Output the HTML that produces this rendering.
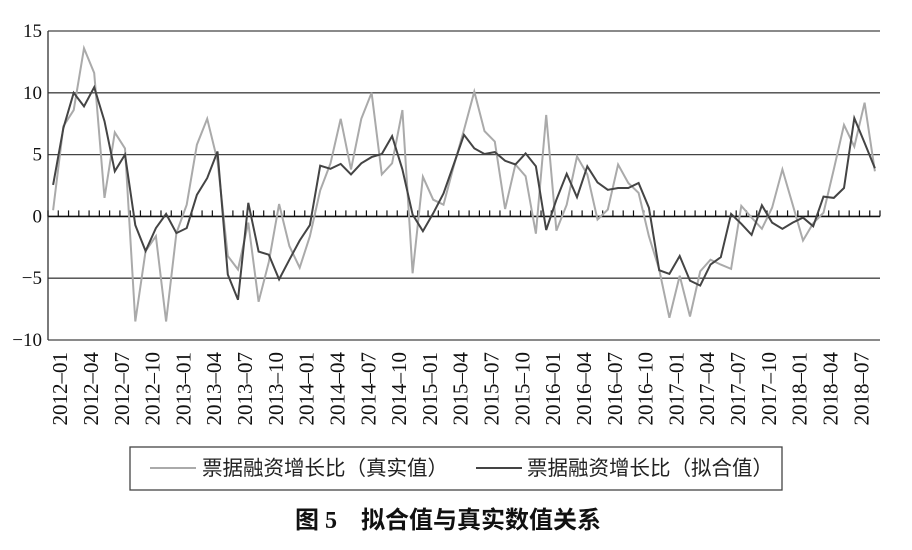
<!DOCTYPE html>
<html><head><meta charset="utf-8"><style>
body{margin:0;background:#fff;}
svg text{font-family:"Liberation Serif","Noto Serif CJK SC",serif;}
</style></head><body>
<svg id="chart" width="912" height="545" viewBox="0 0 912 545" xmlns="http://www.w3.org/2000/svg">
<g id="grid"></g>
<g id="yaxis"></g>
<g id="xaxis"></g>
<g id="series"></g>
<g>
<rect x="130" y="447" width="652" height="43" fill="#fff" stroke="#444" stroke-width="1.3"/>
<line x1="150" y1="468" x2="196" y2="468" stroke="#aaa" stroke-width="2"/>
<text x="202" y="475" font-size="20.5" fill="#222" style="font-family:'Liberation Sans','Noto Sans CJK SC',sans-serif">票据融资增长比（真实值）</text>
<line x1="476" y1="468" x2="522" y2="468" stroke="#444" stroke-width="2"/>
<text x="527" y="475" font-size="20.5" fill="#222" style="font-family:'Liberation Sans','Noto Sans CJK SC',sans-serif">票据融资增长比（拟合值）</text>
</g>
<text x="448" y="528" font-size="24" font-weight="bold" text-anchor="middle" fill="#111" style="font-family:'Liberation Serif','Noto Sans CJK SC',sans-serif">图 5　拟合值与真实数值关系</text>
</svg>
<script>
const yTicks=[15,10,5,0,-5,-10];
const yTickLabels=["15","10","5","0","−5","−10"];
const startYear=2012, nMonths=81;
const actual=[0.5,7.3,8.6,13.6,11.6,1.5,6.8,5.5,-8.5,-2.8,-1.6,-8.5,-1.35,0.95,5.8,7.9,4.5,-3.2,-4.3,-0.5,-6.9,-3.7,1.0,-2.4,-4.15,-1.6,2.1,4.3,7.9,3.8,7.9,10.0,3.4,4.3,8.6,-4.6,3.2,1.35,0.95,4.05,7.0,10.1,6.9,6.05,0.6,4.2,3.25,-1.4,8.2,-1.15,0.95,4.85,3.4,-0.25,0.55,4.2,2.7,1.9,-1.6,-4.3,-8.2,-4.8,-8.1,-4.45,-3.5,-3.9,-4.25,0.85,-0.1,-1.0,0.7,3.8,0.95,-1.95,-0.55,0.3,3.8,7.4,5.65,9.2,3.65];
const fitted=[2.55,7.15,10.0,8.9,10.45,7.7,3.65,5.0,-0.7,-2.8,-0.95,0.2,-1.35,-0.95,1.75,3.1,5.25,-4.7,-6.75,1.1,-2.85,-3.1,-5.1,-3.5,-1.95,-0.7,4.1,3.85,4.25,3.4,4.3,4.8,5.05,6.5,3.8,0.15,-1.2,0.25,1.85,4.2,6.6,5.5,5.05,5.2,4.5,4.2,5.1,4.05,-1.1,1.35,3.45,1.55,4.05,2.75,2.15,2.3,2.3,2.7,0.7,-4.35,-4.65,-3.2,-5.2,-5.6,-3.9,-3.3,0.2,-0.6,-1.5,0.9,-0.5,-1.0,-0.5,-0.1,-0.8,1.6,1.5,2.3,7.95,5.95,3.9];
const NS="http://www.w3.org/2000/svg";
const L=48,R=880,T=31,B=340,ymax=15,ymin=-10;
const bw=(R-L)/nMonths;
function xc(i){return L+bw*(i+0.5);}
function yv(v){return T+(ymax-v)/(ymax-ymin)*(B-T);}
function mk(tag,attrs,parent){const e=document.createElementNS(NS,tag);for(const k in attrs)e.setAttribute(k,attrs[k]);parent.appendChild(e);return e;}
const grid=document.getElementById('grid'),ya=document.getElementById('yaxis'),xa=document.getElementById('xaxis'),sg=document.getElementById('series');
yTicks.forEach((t,k)=>{
  const g=mk('line',{x1:L,x2:R,y1:yv(t),y2:yv(t),stroke:t===0?'#111':'#444','stroke-width':t===0?1.6:1.3},grid);
  
  
  const tx=mk('text',{x:42,y:yv(t)+6,'font-size':19,'text-anchor':'end',fill:'#111'},ya);
  tx.textContent=yTickLabels[k];
  
  
});
const ax=mk('line',{x1:L,x2:L,y1:T,y2:B,stroke:'#333','stroke-width':1.3},ya);


for(let i=0;i<=nMonths;i++){
  const x=L+bw*i;
  const tk=mk('line',{x1:x,x2:x,y1:yv(0)-6,y2:yv(0),stroke:'#111','stroke-width':1.2},xa);
  
  
}
for(let i=0;i<nMonths;i+=3){
  const yr=startYear+Math.floor(i/12), m=(i%12)+1;
  const lab=yr+'–'+(m<10?'0':'')+m;
  const x=xc(i)+14;
  const t=mk('text',{x:0,y:0,'font-size':21,'text-anchor':'end',fill:'#111',transform:'translate('+x+',352) rotate(-90)'},xa);
  t.textContent=lab;
  
  
}
function line(arr,color,name){
  const d=arr.map((v,i)=>(i?'L':'M')+xc(i).toFixed(1)+' '+yv(v).toFixed(1)).join(' ');
  const p=mk('path',{d:d,fill:'none',stroke:color,'stroke-width':2,'stroke-linejoin':'miter'},sg);
  
  
}
line(actual,'#aaa','series-actual-line');
line(fitted,'#444','series-fitted-line');
</script>
</body></html>
